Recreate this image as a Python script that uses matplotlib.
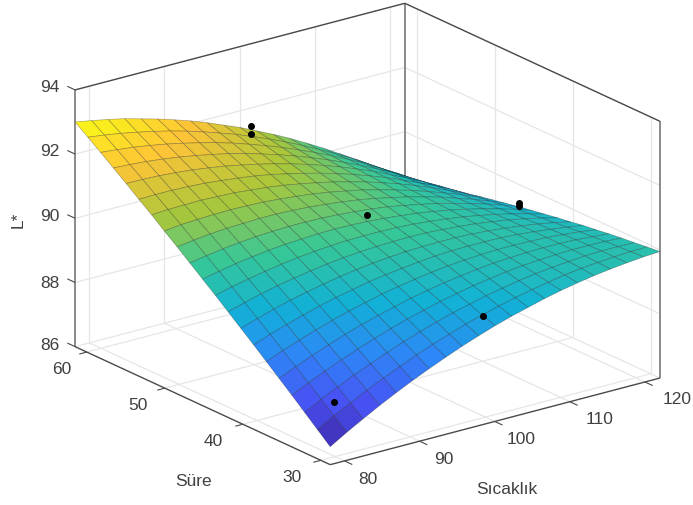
"""
Surface of L* against Sicaklik and Sure.
Outputs out.png.
"""

import matplotlib
matplotlib.use("Agg")
import matplotlib.pyplot as plt
import numpy as np
from matplotlib.colors import LinearSegmentedColormap

plt.rcParams["font.family"] = ["Liberation Sans", "DejaVu Sans"]

T_VALUES = [78.1, 80.295, 82.49, 84.685, 86.88, 89.075, 91.27, 93.465, 95.66, 97.855, 100.05,
            102.245, 104.44, 106.635, 108.83, 111.025, 113.22, 115.415, 117.61, 119.805, 122.0]
S_VALUES = [28.8, 30.435, 32.07, 33.705, 35.34, 36.975, 38.61, 40.245, 41.88, 43.515, 45.15,
            46.785, 48.42, 50.055, 51.69, 53.325, 54.96, 56.595, 58.23, 59.865, 61.5]
# One row per S value
L_VALUES = [
    [86.56, 86.87, 87.16, 87.44, 87.70, 87.95, 88.18, 88.40, 88.61, 88.80, 88.98, 89.14, 89.28, 89.42, 89.54, 89.64, 89.73, 89.80, 89.86, 89.91, 89.94],
    [86.91, 87.20, 87.47, 87.73, 87.97, 88.20, 88.42, 88.62, 88.80, 88.98, 89.13, 89.27, 89.40, 89.51, 89.61, 89.70, 89.77, 89.82, 89.86, 89.89, 89.90],
    [87.26, 87.53, 87.78, 88.02, 88.24, 88.45, 88.65, 88.83, 89.00, 89.15, 89.28, 89.41, 89.51, 89.61, 89.69, 89.75, 89.80, 89.84, 89.86, 89.86, 89.85],
    [87.61, 87.86, 88.09, 88.31, 88.51, 88.70, 88.88, 89.04, 89.18, 89.32, 89.43, 89.54, 89.62, 89.70, 89.76, 89.80, 89.83, 89.85, 89.85, 89.84, 89.81],
    [87.95, 88.18, 88.39, 88.59, 88.78, 88.95, 89.10, 89.24, 89.37, 89.48, 89.58, 89.66, 89.73, 89.79, 89.82, 89.85, 89.86, 89.86, 89.84, 89.80, 89.76],
    [88.29, 88.50, 88.69, 88.87, 89.04, 89.19, 89.32, 89.45, 89.55, 89.64, 89.72, 89.79, 89.83, 89.87, 89.89, 89.89, 89.88, 89.86, 89.82, 89.77, 89.70],
    [88.63, 88.82, 88.99, 89.15, 89.30, 89.43, 89.54, 89.65, 89.73, 89.80, 89.86, 89.91, 89.94, 89.95, 89.95, 89.94, 89.91, 89.86, 89.80, 89.73, 89.65],
    [88.96, 89.13, 89.29, 89.43, 89.55, 89.66, 89.76, 89.84, 89.91, 89.96, 90.00, 90.02, 90.03, 90.03, 90.01, 89.97, 89.92, 89.86, 89.78, 89.69, 89.58],
    [89.29, 89.44, 89.58, 89.70, 89.80, 89.89, 89.97, 90.03, 90.08, 90.11, 90.13, 90.14, 90.13, 90.10, 90.06, 90.01, 89.94, 89.86, 89.76, 89.65, 89.52],
    [89.62, 89.75, 89.86, 89.96, 90.05, 90.12, 90.18, 90.22, 90.25, 90.26, 90.26, 90.25, 90.22, 90.17, 90.11, 90.04, 89.95, 89.85, 89.73, 89.60, 89.45],
    [89.94, 90.05, 90.15, 90.23, 90.30, 90.35, 90.38, 90.41, 90.42, 90.41, 90.39, 90.35, 90.30, 90.24, 90.16, 90.07, 89.96, 89.84, 89.70, 89.55, 89.38],
    [90.26, 90.35, 90.43, 90.49, 90.54, 90.57, 90.59, 90.59, 90.58, 90.55, 90.51, 90.46, 90.39, 90.30, 90.20, 90.09, 89.96, 89.82, 89.67, 89.50, 89.31],
    [90.58, 90.65, 90.71, 90.75, 90.77, 90.79, 90.79, 90.77, 90.74, 90.69, 90.63, 90.56, 90.47, 90.36, 90.25, 90.11, 89.97, 89.80, 89.63, 89.44, 89.23],
    [90.89, 90.95, 90.98, 91.00, 91.01, 91.00, 90.98, 90.94, 90.89, 90.83, 90.75, 90.65, 90.55, 90.42, 90.28, 90.13, 89.96, 89.78, 89.59, 89.38, 89.15],
    [91.21, 91.24, 91.25, 91.26, 91.24, 91.22, 91.17, 91.12, 91.05, 90.96, 90.86, 90.75, 90.62, 90.48, 90.32, 90.15, 89.96, 89.76, 89.54, 89.31, 89.07],
    [91.51, 91.52, 91.52, 91.50, 91.47, 91.42, 91.36, 91.29, 91.20, 91.09, 90.97, 90.84, 90.69, 90.53, 90.35, 90.16, 89.95, 89.73, 89.50, 89.25, 88.98],
    [91.82, 91.81, 91.79, 91.75, 91.70, 91.63, 91.55, 91.45, 91.34, 91.22, 91.08, 90.93, 90.76, 90.58, 90.38, 90.17, 89.94, 89.70, 89.45, 89.18, 88.89],
    [92.12, 92.09, 92.05, 91.99, 91.92, 91.83, 91.73, 91.62, 91.49, 91.34, 91.18, 91.01, 90.82, 90.62, 90.40, 90.17, 89.93, 89.67, 89.39, 89.10, 88.80],
    [92.42, 92.37, 92.31, 92.23, 92.14, 92.03, 91.91, 91.78, 91.63, 91.46, 91.28, 91.09, 90.88, 90.66, 90.43, 90.18, 89.91, 89.63, 89.34, 89.03, 88.70],
    [92.71, 92.64, 92.56, 92.46, 92.35, 92.23, 92.09, 91.93, 91.76, 91.58, 91.38, 91.17, 90.94, 90.70, 90.44, 90.17, 89.89, 89.59, 89.28, 88.95, 88.60],
    [93.00, 92.91, 92.81, 92.70, 92.56, 92.42, 92.26, 92.09, 91.90, 91.69, 91.48, 91.24, 91.00, 90.74, 90.46, 90.17, 89.86, 89.55, 89.21, 88.86, 88.50],
]

DOT_T = [101.5, 101.5, 100.0, 81.2, 100.0, 122.0, 122.0]
DOT_S = [61.5, 61.5, 45.15, 31.35, 30.3, 46.9, 46.9]
DOT_L = [91.43, 91.20, 90.58, 87.47, 89.12, 89.43, 89.31]

T_TICKS = [80, 90, 100, 110, 120]
S_TICKS = [30, 40, 50, 60]
L_TICKS = [86, 88, 90, 92, 94]

T_MIN, T_MAX = 78.1, 122.0
S_MIN, S_MAX = 28.8, 61.5
L_MIN, L_MAX = 86.0, 94.0

PARULA = LinearSegmentedColormap.from_list(
    "parula",
    [
        (0.2422, 0.1504, 0.6603),
        (0.2810, 0.3228, 0.9579),
        (0.1786, 0.5289, 0.9682),
        (0.0689, 0.6948, 0.8394),
        (0.2161, 0.7843, 0.5923),
        (0.6720, 0.7793, 0.2227),
        (0.9970, 0.7659, 0.2199),
        (0.9769, 0.9839, 0.0805),
    ],
)

GRID = "#e6e6e6"
DARK = "#4a4a4a"
MID = "#8a8a8a"
TEXT = "#404040"
W, H = 693, 505


def _label(fig, x, y, text, **kwargs):
    fig.text(x / W, 1 - y / H, text, ha="center", va="center", color=TEXT, fontsize=12.5, **kwargs)


def _line(ax, xs, ys, zs, color, lw=1.0, zorder=1):
    ax.plot(xs, ys, zs, color=color, lw=lw, zorder=zorder, solid_capstyle="butt", clip_on=False)


def main():
    fig = plt.figure(figsize=(W / 100, H / 100), dpi=100)
    ax = fig.add_axes([108.2 / W, 11.7 / H, 505 / W, 505 / H], projection="3d", computed_zorder=False)
    ax.set_proj_type("ortho")
    ax.view_init(elev=20.4, azim=-127)
    ax.set_box_aspect((413, 424, 274), zoom=1.2535)
    ax.set_xlim(T_MIN, T_MAX)
    ax.set_ylim(S_MIN, S_MAX)
    ax.set_zlim(L_MIN, L_MAX)
    ax.set_axis_off()

    # Grid on the two back walls and the floor
    for t in T_TICKS:
        _line(ax, [t, t], [S_MIN, S_MAX], [L_MIN, L_MIN], GRID, 0.9)
        _line(ax, [t, t], [S_MAX, S_MAX], [L_MIN, L_MAX], GRID, 0.9)
    for s in S_TICKS:
        _line(ax, [T_MIN, T_MAX], [s, s], [L_MIN, L_MIN], GRID, 0.9)
        _line(ax, [T_MAX, T_MAX], [s, s], [L_MIN, L_MAX], GRID, 0.9)
    for v in L_TICKS:
        _line(ax, [T_MIN, T_MAX], [S_MAX, S_MAX], [v, v], GRID, 0.9)
        _line(ax, [T_MAX, T_MAX], [S_MIN, S_MAX], [v, v], GRID, 0.9)

    # Box edges
    _line(ax, [T_MIN, T_MIN], [S_MAX, S_MAX], [L_MIN, L_MAX], MID, 1.4)
    _line(ax, [T_MAX, T_MAX], [S_MAX, S_MAX], [L_MIN, L_MAX], MID, 1.4)
    _line(ax, [T_MAX, T_MAX], [S_MIN, S_MIN], [L_MIN, L_MAX], MID, 1.4)
    _line(ax, [T_MIN, T_MAX], [S_MAX, S_MAX], [L_MAX, L_MAX], DARK)
    _line(ax, [T_MAX, T_MAX], [S_MIN, S_MAX], [L_MAX, L_MAX], DARK)
    _line(ax, [T_MIN, T_MAX], [S_MIN, S_MIN], [L_MIN, L_MIN], DARK)
    _line(ax, [T_MIN, T_MIN], [S_MIN, S_MAX], [L_MIN, L_MIN], DARK)

    # Tick marks
    for t in T_TICKS:
        _line(ax, [t, t], [S_MIN - 1.0, S_MIN], [L_MIN, L_MIN], DARK, 0.8)
    for s in S_TICKS:
        _line(ax, [T_MIN - 1.0, T_MIN], [s, s], [L_MIN, L_MIN], DARK, 0.8)
    for v in L_TICKS:
        _line(ax, [T_MIN, T_MIN], [S_MAX, S_MAX + 1.0], [v, v], DARK, 0.8)

    xx, yy = np.meshgrid(T_VALUES, S_VALUES)
    zz = np.array(L_VALUES)
    surface = ax.plot_surface(
        xx, yy, zz, rstride=1, cstride=1, cmap=PARULA, vmin=zz.min(), vmax=zz.max(),
        edgecolor=(0, 0, 0, 0.3), linewidth=0.5, shade=False, zorder=2,
    )
    surface.set_clip_on(False)
    ax.scatter(DOT_T, DOT_S, DOT_L, color="black", s=16, depthshade=False, zorder=3, clip_on=False)

    for text, x, y in zip(["80", "90", "100", "110", "120"], [368, 444, 521, 600, 677], [480, 459, 440, 419, 400]):
        _label(fig, x, y, text)
    for text, x, y in zip(["60", "50", "40", "30"], [62, 138, 213, 292], [370, 405, 441, 477]):
        _label(fig, x, y, text)
    for text, y in zip(["94", "92", "90", "88", "86"], [88, 151, 217, 283, 345]):
        _label(fig, 50, y, text)
    _label(fig, 193, 482, "Süre")
    _label(fig, 507, 489, "Sıcaklık")
    _label(fig, 18, 220, "L*", rotation=90)

    fig.savefig("out.png", dpi=100)
    plt.close(fig)


if __name__ == "__main__":
    main()
